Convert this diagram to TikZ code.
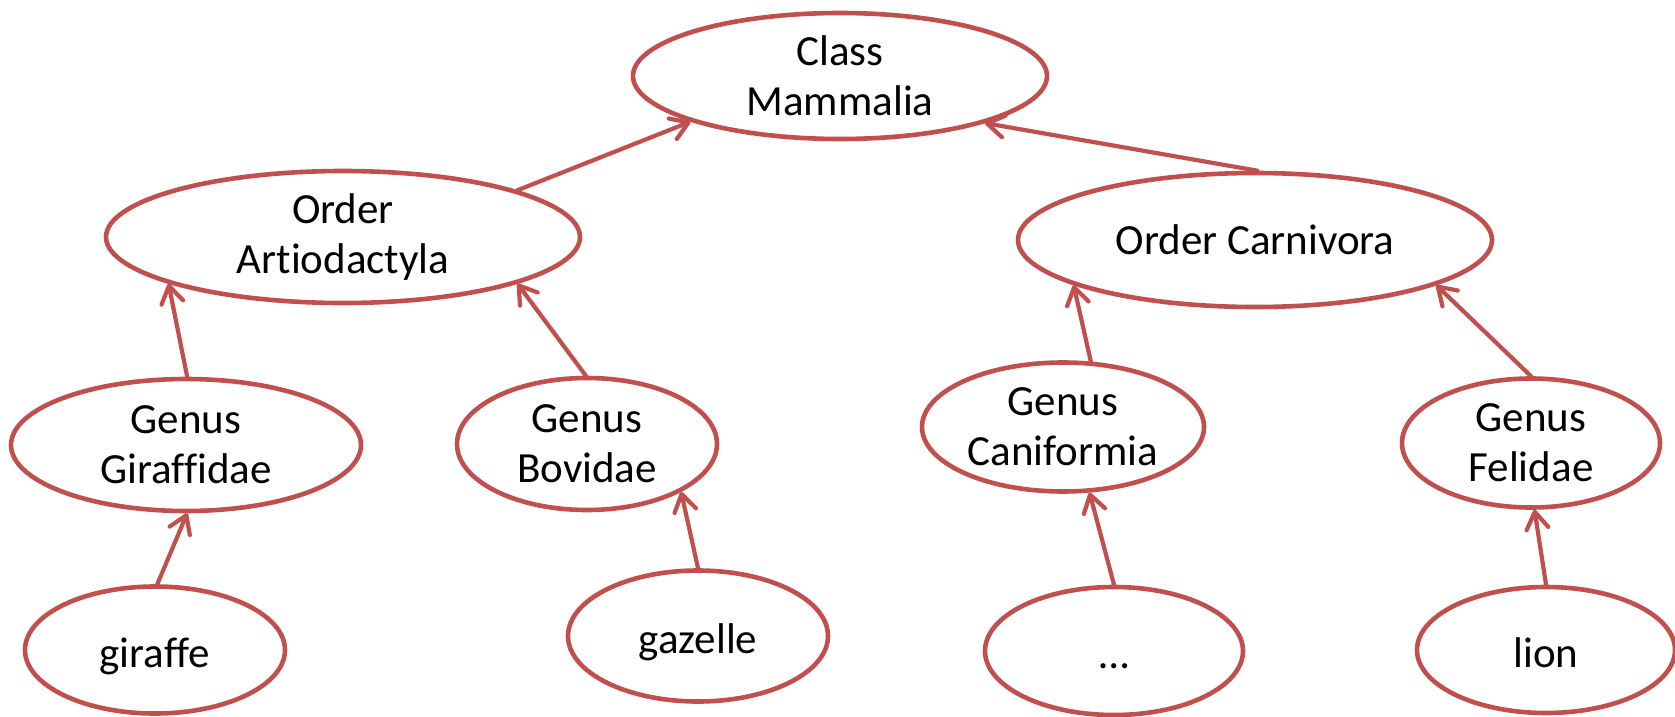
\documentclass[tikz,border=0pt]{standalone}
\usepackage{fontspec}
\setmainfont{Carlito}[Ligatures=NoCommon]
\usetikzlibrary{shapes.geometric,arrows.meta}
\definecolor{taxred}{HTML}{C0504D}
\begin{document}
\begin{tikzpicture}[x=1pt,y=-1pt,
  taxon/.style 2 args={ellipse,draw=taxred,line width=4.6pt,fill=white,
    inner sep=0pt,minimum width=#1pt,minimum height=#2pt,
    align=center,font=\fontsize{43}{50}\selectfont},
  leaf/.style={text height=44pt,text depth=10pt},
  isa/.style={draw=taxred,line width=4.2pt,line cap=round,
    -{Straight Barb[length=17pt,width=22pt,line cap=round,line join=round]}}]
\useasboundingbox (0,0) rectangle (1675,717);
% taxonomy levels
\node[taxon={414}{126}] (mam) at (840,76) {Class\\Mammalia};
\node[taxon={474}{132}] (art) at (343,237) {Order\\Artiodactyla};
\node[taxon={474}{134}] (car) at (1255,240) {Order Carnivora};
\node[taxon={350}{132}] (gir) at (186,445) {Genus\\Giraffidae};
\node[taxon={260}{132}] (bov) at (587,444) {Genus\\Bovidae};
\node[taxon={282}{129}] (can) at (1063,427) {Genus\\Caniformia};
\node[taxon={258}{129}] (fel) at (1531,443) {Genus\\Felidae};
\node[taxon={260}{127}, leaf] (giraffe) at (155,650) {giraffe};
\node[taxon={260}{131}, leaf] (gazelle) at (698,636) {gazelle};
\node[taxon={258}{128}, leaf] (etc) at (1114,651) {…};
\node[taxon={258}{126}, leaf] (lion) at (1546,650) {lion};
% is-a links
\draw[isa] (art.15.9) -- (mam.197.3);
\draw[isa] (car.88.3) -- (mam.342.4);
\draw[isa] (gir.89.2) -- (art.195.1);
\draw[isa] (bov.91) -- (art.345.4);
\draw[isa] (can.67.8) -- (car.194.4);
\draw[isa] (fel.90) -- (car.346.1);
\draw[isa] (giraffe.88.2) -- (gir.271);
\draw[isa] (gazelle.90) -- (bov.333.7);
\draw[isa] (etc.90) -- (can.292.5);
\draw[isa] (lion.90) -- (fel.273.6);
\end{tikzpicture}
\end{document}
